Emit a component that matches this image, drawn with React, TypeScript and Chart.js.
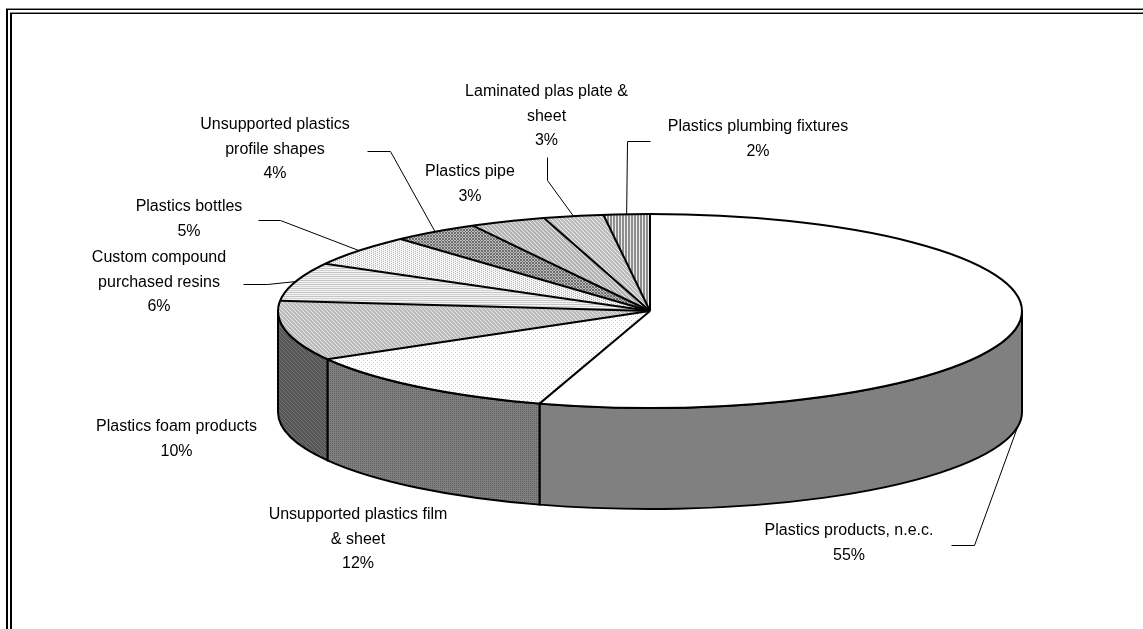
import React, { useEffect, useRef } from "react";
import { Chart, registerables } from "chart.js";

Chart.register(...registerables);

const categories = [
  "Plastics products, n.e.c.",
  "Unsupported plastics film & sheet",
  "Plastics foam products",
  "Custom compound purchased resins",
  "Plastics bottles",
  "Unsupported plastics profile shapes",
  "Plastics pipe",
  "Laminated plas plate & sheet",
  "Plastics plumbing fixtures",
];
const shares = [54.8, 11.9, 10.0, 6.4, 5.2, 3.8, 3.3, 2.6, 2.0];
const percentLabels = ["55%", "12%", "10%", "6%", "5%", "4%", "3%", "3%", "2%"];
const labelLines = [
  ["Plastics products, n.e.c."],
  ["Unsupported plastics film", "& sheet"],
  ["Plastics foam products"],
  ["Custom compound", "purchased resins"],
  ["Plastics bottles"],
  ["Unsupported plastics", "profile shapes"],
  ["Plastics pipe"],
  ["Laminated plas plate &", "sheet"],
  ["Plastics plumbing fixtures"],
];

// layout only: label centre x, first line's middle y
const labelAnchors = [
  [849, 531], [358, 515], [176.5, 427], [159, 258], [189, 207], [275, 125], [470, 172], [546.5, 92], [758, 127],
];
// leader elbows: [start, elbow]; null = no leader
const leaderPaths: (number[][] | null)[] = [
  [[951, 545], [974, 545]],
  null,
  null,
  [[243, 284], [267, 284]],
  [[258, 220], [280, 220]],
  [[367, 151], [390, 151]],
  null,
  [[547, 157], [547, 180]],
  [[650, 141], [627, 141]],
];

const PIE_X = 650;
const PIE_Y = 311;
const RX = 372;
const RY = 97;
const DEPTH = 101;

type Tile = { rows: string[]; colors: Record<string, string> };
const topTiles: (Tile | string)[] = [
  "#ffffff",
  { rows: ["wwww", "wgww", "wwww", "wwwg"], colors: { w: "#ffffff", g: "#c8c8c8" } },
  { rows: ["gwgg", "ggwg", "gggw", "wggg"], colors: { w: "#e6e6e6", g: "#bcbcbc" } },
  { rows: ["wwww", "gggg", "wwww", "hhhh"], colors: { w: "#f4f4f4", g: "#c4c4c4", h: "#d0d0d0" } },
  { rows: ["wgww", "wwwg"], colors: { w: "#f6f6f6", g: "#b4b4b4" } },
  { rows: ["dwd", "wdw", "dwd"].map((r) => r), colors: { w: "#bdbdbd", d: "#6e6e6e" } },
  { rows: ["gwgg", "ggwg", "gggw", "wggg"], colors: { w: "#e6e6e6", g: "#b4b4b4" } },
  { rows: ["gwgg", "ggwg", "gggw", "wggg"], colors: { w: "#ececec", g: "#bcbcbc" } },
  { rows: ["gwg"], colors: { w: "#ececec", g: "#8e8e8e" } },
];
const sideTiles: (Tile | string)[] = [
  "#808080",
  { rows: ["gg", "dg"], colors: { g: "#808080", d: "#5e5e5e" } },
  { rows: ["dgdd", "ddgd", "dddg", "gddd"], colors: { g: "#747474", d: "#565656" } },
  "#9a9a9a",
  "#9a9a9a",
  "#6a6a6a",
  "#808080",
  "#808080",
  "#808080",
];

function makeFill(ctx: CanvasRenderingContext2D, t: Tile | string): any {
  if (typeof t === "string") return t;
  const c = document.createElement("canvas");
  c.width = t.rows[0].length;
  c.height = t.rows.length;
  const g = c.getContext("2d")!;
  t.rows.forEach((row, y) =>
    row.split("").forEach((ch, x) => {
      g.fillStyle = t.colors[ch];
      g.fillRect(x, y, 1, 1);
    })
  );
  return ctx.createPattern(c, "repeat");
}

const onEllipse = (a: number, drop = 0) => [PIE_X + RX * Math.cos(a), PIE_Y + drop + RY * Math.sin(a)];

const pie3d = {
  id: "pie3d",
  beforeDatasetsDraw(chart: any) {
    const { ctx } = chart;
    const arcs = chart.getDatasetMeta(0).data;
    const R = arcs[0].outerRadius;
    const cx = arcs[0].x;
    const cy = arcs[0].y;
    const sx = RX / R;
    const sy = RY / R;

    // frame, open to the right and the bottom
    ctx.save();
    ctx.fillStyle = "#000";
    ctx.fillRect(6, 9, 1137, 1);
    ctx.fillRect(6, 9, 2, 620);
    ctx.fillRect(10, 13, 1133, 1);
    ctx.fillRect(10, 13, 2, 616);
    ctx.fillStyle = "#8a8a8a";
    ctx.fillRect(6, 8, 1137, 1);
    ctx.fillRect(10, 12, 1133, 1);
    ctx.restore();

    // the wall of the cylinder
    arcs.forEach((arc: any, i: number) => {
      const s = Math.max(arc.startAngle, 0);
      const e = Math.min(arc.endAngle, Math.PI);
      const lo = Math.max(arc.startAngle - 2 * Math.PI, 0);
      const hi = Math.min(arc.endAngle - 2 * Math.PI, Math.PI);
      const a0 = s < e ? s : lo;
      const a1 = s < e ? e : hi;
      if (a0 >= a1) return;
      ctx.save();
      ctx.beginPath();
      ctx.ellipse(PIE_X, PIE_Y, RX, RY, 0, a0, a1);
      ctx.ellipse(PIE_X, PIE_Y + DEPTH, RX, RY, 0, a1, a0, true);
      ctx.closePath();
      ctx.fillStyle = makeFill(ctx, sideTiles[i]);
      ctx.fill();
      ctx.strokeStyle = "#000";
      ctx.lineWidth = 2;
      ctx.stroke();
      ctx.restore();
    });

    // squash the library's round pie onto the ellipse
    ctx.save();
    ctx.translate(PIE_X, PIE_Y);
    ctx.scale(sx, sy);
    ctx.translate(-cx, -cy);
    const m = new DOMMatrix().translate(cx, cy).scale(1 / sx, 1 / sy);
    const fills = chart.data.datasets[0].backgroundColor;
    fills.forEach((f: any) => f && f.setTransform && f.setTransform(m));
  },
  afterDatasetsDraw(chart: any) {
    const { ctx } = chart;
    ctx.restore();
    const arcs = chart.getDatasetMeta(0).data;

    // slice outlines
    ctx.save();
    ctx.strokeStyle = "#000";
    ctx.lineWidth = 2;
    ctx.lineJoin = "round";
    ctx.beginPath();
    ctx.ellipse(PIE_X, PIE_Y, RX, RY, 0, 0, 2 * Math.PI);
    ctx.stroke();
    arcs.forEach((arc: any) => {
      const [x, y] = onEllipse(arc.startAngle);
      ctx.beginPath();
      ctx.moveTo(PIE_X, PIE_Y);
      ctx.lineTo(x, y);
      ctx.stroke();
    });
    ctx.restore();

    // leaders
    ctx.save();
    ctx.strokeStyle = "#000";
    ctx.lineWidth = 1;
    leaderPaths.forEach((path, i) => {
      if (!path) return;
      const arc = arcs[i];
      const mid = (arc.startAngle + arc.endAngle) / 2;
      const wall = Math.sin(mid) > 0;
      const [ex, ey] = onEllipse(mid, wall ? DEPTH : 0);
      ctx.beginPath();
      ctx.moveTo(path[0][0] + 0.5, path[0][1] + 0.5);
      ctx.lineTo(path[1][0] + 0.5, path[1][1] + 0.5);
      ctx.lineTo(ex, ey);
      ctx.stroke();
    });
    ctx.restore();

    // labels
    ctx.save();
    ctx.fillStyle = "#000";
    ctx.font = '16px "Liberation Sans", Arial, sans-serif';
    ctx.textAlign = "center";
    ctx.textBaseline = "middle";
    categories.forEach((_, i) => {
      const lines = [...labelLines[i], percentLabels[i]];
      lines.forEach((line, k) => {
        ctx.fillText(line, labelAnchors[i][0], labelAnchors[i][1] + k * 24.5);
      });
    });
    ctx.restore();
  },
};

export default function App() {
  const ref = useRef<HTMLCanvasElement>(null);
  useEffect(() => {
    document.body.style.margin = "0";
    const canvas = ref.current!;
    const ctx = canvas.getContext("2d")!;
    const chart = new Chart(canvas, {
      type: "pie",
      data: {
        labels: categories,
        datasets: [
          {
            data: shares,
            backgroundColor: topTiles.map((t) => makeFill(ctx, t)),
            borderWidth: 0,
          },
        ],
      },
      options: {
        responsive: false,
        animation: false,
        events: [],
        layout: { padding: 0 },
        plugins: { legend: { display: false }, tooltip: { enabled: false }, title: { display: false } },
      },
      plugins: [pie3d],
    });
    return () => chart.destroy();
  }, []);
  return (
    <div style={{ width: 1143, height: 629, background: "#fff", overflow: "hidden" }}>
      <canvas ref={ref} width={1143} height={629} style={{ display: "block" }} />
    </div>
  );
}
